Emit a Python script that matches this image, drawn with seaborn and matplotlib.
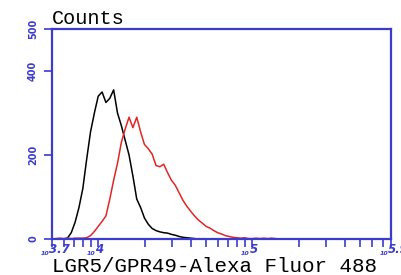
import matplotlib
matplotlib.use('Agg')
import matplotlib.pyplot as plt
import pandas as pd
import seaborn as sns
import numpy as np

# log10 of fluorescence intensity (bin centres)
log_intensity = [3.700, 3.725, 3.750, 3.775, 3.800, 3.825, 3.850, 3.875, 3.900, 3.925,
                 3.950, 3.975, 4.000, 4.025, 4.050, 4.075, 4.100, 4.125, 4.150, 4.175,
                 4.200, 4.225, 4.250, 4.275, 4.300, 4.325, 4.350, 4.375, 4.400, 4.425,
                 4.450, 4.475, 4.500, 4.525, 4.550, 4.575, 4.600, 4.625, 4.650, 4.675,
                 4.700, 4.725, 4.750, 4.775, 4.800, 4.825, 4.850, 4.875, 4.900, 4.925,
                 4.950, 4.975, 5.000, 5.025, 5.050, 5.075, 5.100, 5.125, 5.150, 5.175,
                 5.200]

# isotype / unstained control (black)
control_counts = [0, 0, 0, 0, 2, 15, 40, 75, 120, 190,
                  255, 300, 340, 350, 325, 335, 355, 300, 270, 235,
                  200, 150, 95, 75, 50, 35, 25, 20, 17, 15,
                  14, 11, 9, 6, 4, 3, 2, 1, 0, 0,
                  0, 0, 0, 0, 0, 0, 0, 0, 0, 0,
                  0, 0, 0, 0, 0, 0, 0, 0, 0, 0,
                  0]

# LGR5 stained sample (red)
lgr5_counts = [0, 1, 2, 1, 2, 1, 2, 2, 2, 3,
               8, 18, 30, 42, 55, 95, 140, 180, 230, 262,
               290, 265, 290, 255, 225, 215, 202, 175, 172, 178,
               158, 140, 128, 110, 92, 78, 66, 55, 45, 38,
               30, 26, 20, 15, 12, 8, 6, 4, 3, 2,
               3, 1, 1, 2, 1, 2, 1, 2, 1, 0,
               0]

# tick labels: (exponent text)
major_exp = ['3.7', '4', '5', '5.9']

n = len(log_intensity)
df = pd.DataFrame({
    'intensity': np.power(10.0, log_intensity + log_intensity),
    'count': control_counts + lgr5_counts,
    'sample': ['control'] * n + ['LGR5'] * n,
})

sns.set_style('white')
plt.rcParams['font.family'] = ['DejaVu Sans']

blue = '#3b3bd0'

fig = plt.figure(figsize=(4.01, 2.75), dpi=100)
ax = fig.add_axes([52 / 401, 1 - 239 / 275, 339 / 401, 210 / 275])

sns.lineplot(data=df, x='intensity', y='count', hue='sample',
             palette={'control': 'black', 'LGR5': '#e02626'},
             estimator=None, linewidth=1.1, legend=False, ax=ax)

ax.set_xscale('log')
xmax = 10 ** 5.9
ax.set_xlim(10 ** 3.7, xmax)
ax.set_ylim(0, 500)

# axes frame
for s in ax.spines.values():
    s.set_color(blue)
    s.set_linewidth(1.6)

# y ticks
ax.set_yticks([0, 200, 400, 500])
ax.set_yticklabels(['0', '200', '400', '500'], rotation=90, va='center',
                   fontsize=7, fontweight='bold', color=blue)
ax.tick_params(axis='y', which='major', direction='out', length=6, width=1.2,
               color=blue, pad=4, left=True)

# x ticks
major = [10 ** 3.7, 1e4, 1e5, xmax]
ax.set_xticks(major)
ax.set_xticklabels([])
minor = [6e3, 7e3, 8e3, 9e3, 2e4, 3e4, 4e4, 5e4, 6e4, 7e4, 8e4, 9e4,
         2e5, 3e5, 4e5, 5e5, 6e5, 7e5]
ax.set_xticks(minor, minor=True)
ax.set_xticklabels([], minor=True)
ax.tick_params(axis='x', which='both', direction='out', length=6, width=1.2,
               color=blue, bottom=True)

for pos, e in zip(major, major_exp):
    ax.annotate('10', xy=(pos, 0), xycoords=('data', 'axes fraction'),
                xytext=(-2, -10.3), textcoords='offset points',
                fontsize=4.5, ha='right', va='center', color=blue,
                fontstyle='italic', fontweight='bold', annotation_clip=False)
    ax.annotate(e, xy=(pos, 0), xycoords=('data', 'axes fraction'),
                xytext=(-2, -7.8), textcoords='offset points',
                fontsize=8.5, ha='left', va='center', color=blue,
                fontstyle='italic', fontweight='bold', annotation_clip=False)

ax.set_xlabel('')
ax.set_ylabel('')

fig.text(52 / 401, 1 - 18 / 275, 'Counts', family='Liberation Mono',
         fontsize=14.5, va='center', ha='left', color='black')
fig.text(52 / 401, 1 - 266 / 275, 'LGR5/GPR49-Alexa Fluor 488', family='Liberation Mono',
         fontsize=15, va='center', ha='left', color='black')

fig.savefig('out.png', dpi=100)
